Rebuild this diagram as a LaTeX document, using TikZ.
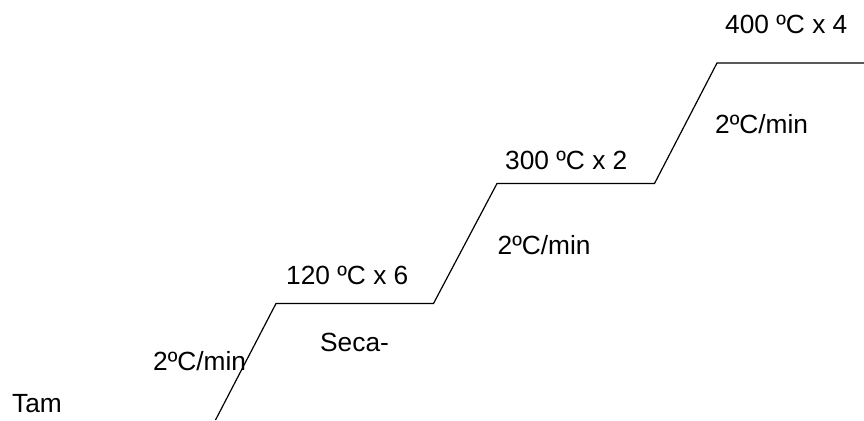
\documentclass[tikz,border=0pt]{standalone}
\usepackage{fontspec}
\setmainfont{Liberation Sans}
\begin{document}
\begin{tikzpicture}[x=1pt,y=1pt,
  lbl/.style={anchor=base west,inner sep=0pt,font=\fontsize{26.3}{31}\selectfont},
  ramp/.style={line width=1.2pt,line join=miter}]
\useasboundingbox (0,0) rectangle (864,420);
% heating schedule: ramps and holds
\coordinate (p0) at (215.5,0);
\coordinate (p1) at (276,116.5);
\coordinate (p2) at (433.5,116.5);
\coordinate (p3) at (497,236.5);
\coordinate (p4) at (654.5,236.5);
\coordinate (p5) at (717,357);
\coordinate (p6) at (864,357);
\draw[ramp] (p0) -- (p1) -- (p2) -- (p3) -- (p4) -- (p5) -- (p6);
% labels
\node[lbl] (tam) at (12,8) {Tam};
\node[lbl] (r1) at (153,49.3) {2ºC/min};
\node[lbl] (seca) at (320,68.3) {Seca-};
\node[lbl] (h1) at (286,135) {120 ºC x 6};
\node[lbl] (r2) at (497.5,165) {2ºC/min};
\node[lbl] (h2) at (505,250) {300 ºC x 2};
\node[lbl] (r3) at (715,286.7) {2ºC/min};
\node[lbl] (h3) at (725,386.7) {400 ºC x 4};
\end{tikzpicture}
\end{document}
